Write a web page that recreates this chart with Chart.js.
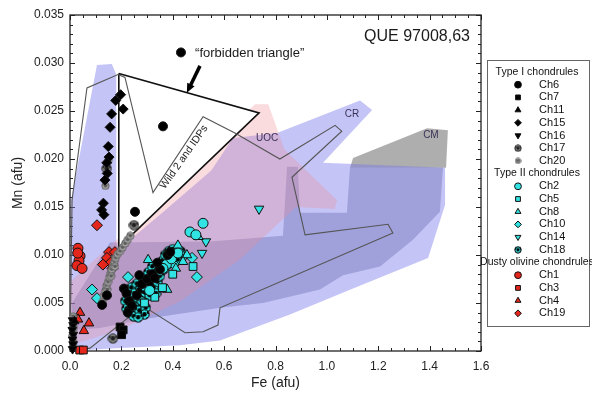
<!DOCTYPE html>
<html>
<head>
<meta charset="utf-8">
<title>QUE 97008,63 olivine Mn vs Fe</title>
<script src="https://cdn.jsdelivr.net/npm/chart.js@4.4.1/dist/chart.umd.min.js"></script>
<style>
  html, body { margin: 0; padding: 0; background: #fff; }
  canvas { display: block; }
</style>
</head>
<body>
<canvas id="chart" width="592" height="402"></canvas>
<script>
const FONT = "'Liberation Sans', Arial, sans-serif";

// axis ticks
const xTicks = [0, 0.2, 0.4, 0.6, 0.8, 1.0, 1.2, 1.4, 1.6];
const yTicks = [0, 0.005, 0.010, 0.015, 0.020, 0.025, 0.030, 0.035];

// Type I chondrules  [Fe, Mn] in afu
const ch6 = [[0.432,0.0311],[0.362,0.0234],[0.253,0.0145],[0.144,0.0058],[0.125,0.0048],[0.21,0.0065],[0.22,0.0060],[0.23,0.0052],[0.24,0.0047],[0.26,0.0058],[0.28,0.0070],[0.30,0.0075],[0.32,0.0080],[0.33,0.0076],[0.35,0.0085],[0.38,0.0100],[0.39,0.0103],[0.27,0.0079],[0.34,0.0092],[0.225,0.0040]];
const ch7 = [[0.195,0.0025],[0.207,0.0022],[0.201,0.0017]];
const ch11 = [[0.27,0.0063],[0.31,0.0071],[0.018,0.0031]];
const ch15 = [[0.178,0.0261],[0.197,0.0267],[0.207,0.0252],[0.162,0.0247],[0.156,0.0233],[0.149,0.0213],[0.152,0.0202],[0.143,0.0196],[0.145,0.0185],[0.136,0.0178],[0.130,0.0154],[0.123,0.0147],[0.132,0.0142]];
const ch16 = [[0.01,0.0032],[0.012,0.0027],[0.009,0.0022],[0.013,0.0017],[0.01,0.0012],[0.012,0.0007],[0.01,0.0002]];
const ch17 = [[0.249,0.0131],[0.167,0.0013],[0.143,0.0190]];
const ch20 = [[0.128,0.0052],[0.132,0.0058],[0.138,0.0063],[0.142,0.0068],[0.148,0.0072],[0.153,0.0077],[0.158,0.0081],[0.163,0.0085],[0.168,0.0089],[0.173,0.0093],[0.178,0.0097],[0.185,0.0101],[0.195,0.0104],[0.205,0.0108],[0.215,0.0112],[0.225,0.0116],[0.235,0.0120],[0.145,0.0064],[0.16,0.0078],[0.175,0.0088],[0.012,0.0036],[0.015,0.0024],[0.01,0.0016],[0.014,0.0009],[0.15,0.0199],[0.138,0.0172]];

// Type II chondrules
const ch2 = [[0.518,0.0133],[0.467,0.0124],[0.49,0.0121],[0.35,0.0084],[0.375,0.0090],[0.362,0.0086],[0.31,0.0063],[0.395,0.0096],[0.42,0.0102]];
const ch5 = [[0.479,0.0088],[0.33,0.0056],[0.36,0.0066],[0.29,0.0050],[0.40,0.0080]];
const ch8 = [[0.304,0.0095],[0.432,0.0103],[0.455,0.0100],[0.378,0.0064],[0.44,0.0093],[0.50,0.0119],[0.345,0.0087],[0.412,0.0086],[0.42,0.0110]];
const ch10 = [[0.086,0.0064],[0.105,0.0055],[0.226,0.0077],[0.494,0.0077],[0.475,0.0097],[0.405,0.0090]];
const ch14 = [[0.736,0.0148],[0.529,0.0114],[0.514,0.0102],[0.445,0.0098]];
const ch18 = [[0.215,0.0052],[0.22,0.0044],[0.228,0.0058],[0.232,0.0040],[0.238,0.0066],[0.242,0.0050],[0.248,0.0036],[0.25,0.0060],[0.256,0.0046],[0.26,0.0070],[0.265,0.0055],[0.27,0.0042],[0.275,0.0066],[0.28,0.0052],[0.285,0.0076],[0.29,0.0061],[0.295,0.0045],[0.30,0.0070],[0.305,0.0082],[0.31,0.0058],[0.315,0.0075],[0.32,0.0088],[0.325,0.0066],[0.33,0.0080],[0.34,0.0072],[0.345,0.0090],[0.35,0.0078],[0.36,0.0094],[0.365,0.0085],[0.37,0.0100],[0.38,0.0090],[0.385,0.0104],[0.395,0.0097],[0.40,0.0106],[0.41,0.0100],[0.42,0.0095],[0.43,0.0104],[0.29,0.0038],[0.265,0.0035],[0.335,0.0060]];

// Dusty olivine chondrules
const ch1 = [[0.031,0.0107],[0.039,0.0099],[0.035,0.0094],[0.027,0.0089],[0.047,0.0086],[0.03,0.0102]];
const ch3 = [[0.038,0.0001],[0.052,0.0001]];
const ch4 = [[0.039,0.0040],[0.031,0.0033],[0.054,0.0021],[0.074,0.0029]];
const ch19 = [[0.105,0.0131],[0.152,0.0103],[0.175,0.0103],[0.144,0.0097],[0.158,0.0092],[0.128,0.0090],[0.165,0.0086]];

// fields (polygon outlines, Fe/Mn)
const fieldBlue = [[0,0],[0.004,0.0157],[0.105,0.0298],[0.163,0.0299],[0.18,0.0288],[0.18,0.0112],[0.19,0.0106],[0.35,0.0142],[0.55,0.0188],[0.634,0.0222],[0.806,0.0227],[1.129,0.0261],[1.176,0.0251],[0.985,0.0196],[1.46,0.0191],[1.46,0.0152],[1.394,0.0097],[1.109,0.0066],[0.856,0.0038],[0.584,0.0011],[0.428,0.0006],[0.195,0.0003],[0,0]];
const fieldBlue2 = [[0.008,0.0050],[0.156,0.0113],[0.545,0.0114],[0.829,0.0120],[0.845,0.0192],[0.887,0.0192],[0.895,0.0144],[1.078,0.0144],[1.090,0.0191],[1.452,0.0191],[1.440,0.0145],[1.335,0.0116],[1.207,0.0088],[1.063,0.0079],[0.973,0.0064],[0.751,0.0050],[0.584,0.0045],[0.311,0.0034],[0.117,0.0024],[0.008,0.0022],[0.008,0.0050]];
const fieldUOC = [[0,0.0006],[0,0.0072],[0.19,0.0118],[0.72,0.0257],[0.772,0.0257],[0.835,0.0210],[1.04,0.0157],[1.03,0.0148],[0.88,0.0150],[0.66,0.0095],[0.43,0.0052],[0.195,0.0022],[0,0.0006]];
const fieldCM = [[1.09,0.0191],[1.102,0.0201],[1.39,0.0232],[1.471,0.0230],[1.464,0.0191],[1.09,0.0191]];
const forbidden = [[0.19,0.0289],[0.736,0.0248],[0.19,0.0108],[0.19,0.0289]];
const wild2 = [[0,0],[0.008,0.0157],[0.066,0.0274],[0.187,0.0288],[0.214,0.0285],[0.323,0.0165],[0.518,0.0244],[0.642,0.0227],[0.817,0.0200],[1.032,0.0235],[1.058,0.0229],[0.864,0.0181],[0.915,0.0121],[1.238,0.0132],[1.257,0.0123],[0.584,0.0045],[0.576,0.0027],[0.518,0.0020],[0.448,0.0019],[0.284,0.0047],[0.078,0.0003],[0,0]];

// labels placed in data space
const sampleName = 'QUE 97008,63';
const sampleAt = [1.557, 0.0328];
const forbiddenText = '\u201cforbidden triangle\u201d';
const forbiddenAt = [0.487, 0.0310];
const arrow = [[0.506, 0.0297], [0.455, 0.0269]];
const wildText = 'Wild 2 and IDPs';
const wildAt = [0.444, 0.0202];
const fieldNames = ['UOC', 'CR', 'CM'];
const fieldNameAt = [[0.767, 0.0222], [1.098, 0.0247], [1.405, 0.0225]];
const groupTitles = ['Type I chondrules', 'Type II chondrules', 'Dusty olivine chondrules'];

const CYAN = '#31e3e3', RED = '#e4261d';
const pts = a => a.map(([x, y]) => ({x, y}));

// speckled marker for Ch17 / Ch18 / Ch20
function mottled(size, base, spot, edge) {
  const c = document.createElement('canvas');
  c.width = c.height = size;
  const g = c.getContext('2d');
  const m = size / 2, r = m - 0.8;
  g.beginPath(); g.arc(m, m, r, 0, 2 * Math.PI); g.fillStyle = base; g.fill();
  g.save(); g.clip(); g.fillStyle = spot;
  [[0.5, 0.48, 0.2], [0.12, 0.3, 0.17], [0.88, 0.3, 0.17], [0.22, 0.92, 0.17], [0.8, 0.9, 0.17]].forEach(([sx, sy, sr]) => {
    g.beginPath(); g.arc(sx * size, sy * size, sr * size, 0, 2 * Math.PI); g.fill();
  });
  g.restore();
  g.beginPath(); g.arc(m, m, r, 0, 2 * Math.PI); g.lineWidth = 1; g.strokeStyle = edge; g.stroke();
  return c;
}

const series = [
  {label: 'Ch6', group: 0, data: ch6, style: 'circle', fill: '#000', r: 4.5},
  {label: 'Ch7', group: 0, data: ch7, style: 'rect', fill: '#000', r: 5.5},
  {label: 'Ch11', group: 0, data: ch11, style: 'triangle', fill: '#000', r: 5},
  {label: 'Ch15', group: 0, data: ch15, style: 'rectRot', fill: '#000', r: 5},
  {label: 'Ch16', group: 0, data: ch16, style: 'triangle', rot: 180, fill: '#000', r: 5},
  {label: 'Ch17', group: 0, data: ch17, style: mottled(11, '#7d7d7d', '#1e1e1e', '#333'), legend: mottled(8, '#7d7d7d', '#1e1e1e', '#333')},
  {label: 'Ch20', group: 0, data: ch20, style: mottled(9, '#a2a2a2', '#5a5a5a', '#6a6a6a'), legend: mottled(7, '#a2a2a2', '#5a5a5a', '#6a6a6a')},
  {label: 'Ch2', group: 1, data: ch2, style: 'circle', fill: CYAN, r: 5},
  {label: 'Ch5', group: 1, data: ch5, style: 'rect', fill: CYAN, r: 5.5},
  {label: 'Ch8', group: 1, data: ch8, style: 'triangle', fill: CYAN, r: 5.5},
  {label: 'Ch10', group: 1, data: ch10, style: 'rectRot', fill: CYAN, r: 5.5},
  {label: 'Ch14', group: 1, data: ch14, style: 'triangle', rot: 180, fill: CYAN, r: 5.5},
  {label: 'Ch18', group: 1, data: ch18, style: mottled(11, CYAN, '#000', '#000'), legend: mottled(8, CYAN, '#000', '#000')},
  {label: 'Ch1', group: 2, data: ch1, style: 'circle', fill: RED, r: 5},
  {label: 'Ch3', group: 2, data: ch3, style: 'rect', fill: RED, r: 5.5},
  {label: 'Ch4', group: 2, data: ch4, style: 'triangle', fill: RED, r: 5.5},
  {label: 'Ch19', group: 2, data: ch19, style: 'rectRot', fill: RED, r: 5.5}
];

const pointSets = series.map(s => ({
  type: 'scatter',
  label: s.label,
  group: s.group,
  data: pts(s.data),
  pointStyle: s.style,
  legendStyle: s.legend || s.style,
  pointRotation: s.rot || 0,
  pointRadius: s.r || 5,
  pointBackgroundColor: s.fill || '#000',
  pointBorderColor: '#111',
  pointBorderWidth: 1,
  clip: false,
  order: 0
}));

const shape = (data, bg, order, extra) => Object.assign({
  type: 'line', data: pts(data), fill: 'shape', backgroundColor: bg,
  borderColor: 'rgba(0,0,0,0)', borderWidth: 0, pointRadius: 0, pointHitRadius: 0,
  isShape: true, order
}, extra || {});

const shapeSets = [
  shape(fieldCM, 'rgba(140,140,140,0.7)', 9),
  shape(fieldBlue, 'rgba(115,115,235,0.42)', 8),
  shape(fieldBlue2, 'rgba(85,85,160,0.32)', 7),
  shape(fieldUOC, 'rgba(240,140,150,0.3)', 6),
  shape(forbidden, '#ffffff', 5, {borderColor: '#111', borderWidth: 1.6}),
  shape(wild2, 'rgba(0,0,0,0)', 4, {fill: false, borderColor: '#555', borderWidth: 1.1})
];

const frame = {
  id: 'frame',
  beforeDatasetsDraw(chart) {
    const {ctx, chartArea: a, scales: {x, y}} = chart;
    ctx.save();
    ctx.strokeStyle = '#222';
    ctx.lineWidth = 1;
    ctx.beginPath();
    for (let i = 0; i <= 32; i++) {
      const px = Math.round(x.getPixelForValue(i * 0.05)) + 0.5;
      const len = i % 4 === 0 ? 5 : 3;
      ctx.moveTo(px, a.bottom); ctx.lineTo(px, a.bottom - len);
      ctx.moveTo(px, a.top); ctx.lineTo(px, a.top + len);
    }
    for (let i = 0; i <= 35; i++) {
      const py = Math.round(y.getPixelForValue(i * 0.001)) + 0.5;
      const len = i % 5 === 0 ? 5 : 3;
      ctx.moveTo(a.left, py); ctx.lineTo(a.left + len, py);
      ctx.moveTo(a.right, py); ctx.lineTo(a.right - len, py);
    }
    ctx.stroke();
    ctx.lineWidth = 1.3;
    ctx.strokeRect(a.left, a.top, a.right - a.left, a.bottom - a.top);
    ctx.restore();
  }
};

const notes = {
  id: 'notes',
  afterDatasetsDraw(chart) {
    const {ctx, scales: {x, y}} = chart;
    const X = v => x.getPixelForValue(v), Y = v => y.getPixelForValue(v);
    ctx.save();
    ctx.fillStyle = '#1a1a1a';
    ctx.textBaseline = 'middle';

    ctx.font = '16px ' + FONT;
    ctx.textAlign = 'right';
    ctx.fillText(sampleName, X(sampleAt[0]), Y(sampleAt[1]));

    ctx.font = '13px ' + FONT;
    ctx.textAlign = 'left';
    ctx.fillText(forbiddenText, X(forbiddenAt[0]), Y(forbiddenAt[1]));

    // arrow to the triangle
    const x0 = X(arrow[0][0]), y0 = Y(arrow[0][1]), x1 = X(arrow[1][0]), y1 = Y(arrow[1][1]);
    const ang = Math.atan2(y1 - y0, x1 - x0), head = 10;
    ctx.strokeStyle = '#000';
    ctx.fillStyle = '#000';
    ctx.lineWidth = 3.5;
    ctx.beginPath();
    ctx.moveTo(x0, y0);
    ctx.lineTo(x1 - head * 0.7 * Math.cos(ang), y1 - head * 0.7 * Math.sin(ang));
    ctx.stroke();
    ctx.beginPath();
    ctx.moveTo(x1, y1);
    ctx.lineTo(x1 - head * Math.cos(ang - 0.42), y1 - head * Math.sin(ang - 0.42));
    ctx.lineTo(x1 - head * Math.cos(ang + 0.42), y1 - head * Math.sin(ang + 0.42));
    ctx.closePath();
    ctx.fill();

    ctx.fillStyle = '#222';
    ctx.font = '10.5px ' + FONT;
    ctx.textAlign = 'center';
    ctx.save();
    ctx.translate(X(wildAt[0]), Y(wildAt[1]));
    ctx.rotate(-55 * Math.PI / 180);
    ctx.fillText(wildText, 0, 0);
    ctx.restore();

    ctx.fillStyle = '#3b3156';
    ctx.font = '10px ' + FONT;
    fieldNames.forEach((t, i) => ctx.fillText(t, X(fieldNameAt[i][0]), Y(fieldNameAt[i][1])));
    ctx.restore();
  }
};

const groupLegend = {
  id: 'groupLegend',
  afterDraw(chart) {
    const ctx = chart.ctx;
    const L = 487, T = 60, R = 589, B = 326, step = 12.7, mx = 518, tx = 539;
    ctx.save();
    ctx.strokeStyle = '#666';
    ctx.lineWidth = 1;
    ctx.strokeRect(L + 0.5, T + 0.5, R - L, B - T);
    ctx.textBaseline = 'middle';
    let yy = T + 12;
    groupTitles.forEach((title, gi) => {
      ctx.font = '10.5px ' + FONT;
      ctx.textAlign = 'center';
      ctx.fillStyle = '#111';
      ctx.fillText(title, (L + R) / 2 - 1, yy);
      yy += step;
      chart.data.datasets.filter(d => !d.isShape && d.group === gi).forEach(d => {
        ctx.fillStyle = d.pointBackgroundColor;
        ctx.strokeStyle = d.pointBorderColor;
        ctx.lineWidth = 1;
        if (Chart.helpers && Chart.helpers.drawPoint) {
          Chart.helpers.drawPoint(ctx, {pointStyle: d.legendStyle, rotation: d.pointRotation, radius: 3.4, borderWidth: 1}, mx, yy);
        }
        ctx.fillStyle = '#111';
        ctx.font = '11px ' + FONT;
        ctx.textAlign = 'left';
        ctx.fillText(d.label, tx, yy);
        yy += step;
      });
    });
    ctx.restore();
  }
};

const tickFont = {family: FONT, size: 12};

new Chart(document.getElementById('chart'), {
  type: 'scatter',
  data: {datasets: [...pointSets, ...shapeSets]},
  options: {
    responsive: false,
    animation: false,
    devicePixelRatio: 1,
    layout: {padding: {left: 0, right: 111, top: 15, bottom: 0}},
    plugins: {legend: {display: false}, tooltip: {enabled: false}},
    scales: {
      x: {
        type: 'linear', min: 0, max: 1.6,
        afterFit: s => { s.height = 51; },
        afterBuildTicks: s => { s.ticks = xTicks.map(v => ({value: v})); },
        grid: {display: false, drawTicks: false},
        border: {display: false},
        ticks: {padding: 8, color: '#222', font: tickFont, autoSkip: false, maxRotation: 0, callback: v => v.toFixed(1)},
        title: {display: true, text: 'Fe (afu)', color: '#222', font: {family: FONT, size: 14}, padding: {top: 0, bottom: 10}}
      },
      y: {
        type: 'linear', min: 0, max: 0.035,
        afterFit: s => { s.width = 70; },
        afterBuildTicks: s => { s.ticks = yTicks.map(v => ({value: v})); },
        grid: {display: false, drawTicks: false},
        border: {display: false},
        ticks: {padding: 6, color: '#222', font: tickFont, autoSkip: false, callback: v => v.toFixed(3)},
        title: {display: true, text: 'Mn (afu)', color: '#222', font: {family: FONT, size: 14}, padding: {top: 10, bottom: 0}}
      }
    }
  },
  plugins: [frame, notes, groupLegend]
});
</script>
</body>
</html>
